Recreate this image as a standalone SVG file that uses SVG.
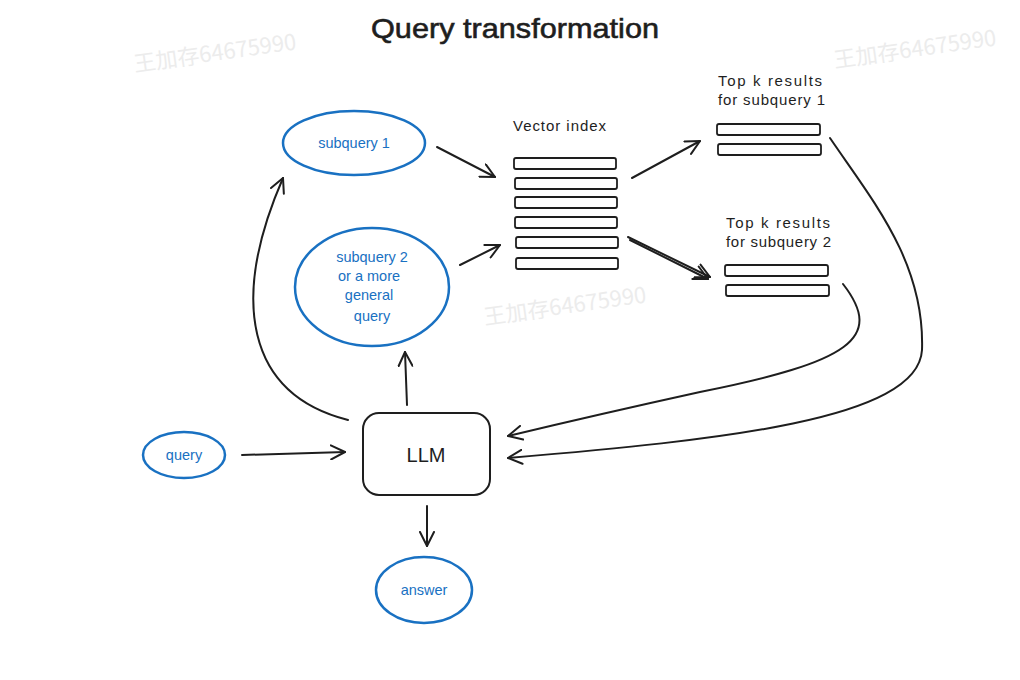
<svg xmlns="http://www.w3.org/2000/svg" width="1020" height="680" viewBox="0 0 1020 680">
<style>
.bg{fill:#ffffff}
.wm{font-family:"Noto Sans CJK SC","Liberation Sans",sans-serif;font-size:22px;fill:#ececec}
.title{font-family:"Liberation Sans",sans-serif;font-size:28px;fill:#1e1e1e;stroke:#1e1e1e;stroke-width:0.6}
.lbl{font-family:"Liberation Sans",sans-serif;font-size:15px;fill:#1e1e1e}
.blue{font-family:"Liberation Sans",sans-serif;font-size:14.5px;fill:#1971c2;text-anchor:middle}
.ell{fill:none;stroke:#1971c2;stroke-width:2.5}
.bar{fill:#ffffff;stroke:#1e1e1e;stroke-width:1.8}
.box{fill:#ffffff;stroke:#1e1e1e;stroke-width:2}
.llm{font-family:"Liberation Sans",sans-serif;font-size:20px;fill:#1e1e1e;text-anchor:middle}
.con{fill:none;stroke:#1e1e1e;stroke-width:2;stroke-linecap:round;marker-end:url(#arr)}
</style>
<defs>
<marker id="arr" viewBox="0 0 16 16" refX="15" refY="8" markerWidth="16" markerHeight="16" markerUnits="userSpaceOnUse" orient="auto">
<path d="M1,1 L15,8 L1,15" fill="none" stroke="#1e1e1e" stroke-width="2" stroke-linecap="round" stroke-linejoin="round"/>
</marker>
</defs>
<rect class="bg" x="0" y="0" width="1020" height="680"/>
<g id="watermarks">
<text class="wm" x="835" y="68" transform="rotate(-8 835 68)">王加存64675990</text>
<text class="wm" x="485" y="325" transform="rotate(-8 485 325)">王加存64675990</text>
<text class="wm" x="135" y="72" transform="rotate(-8 135 72)">王加存64675990</text>
</g>
<g id="title"><text class="title" x="371" y="38" textLength="288" lengthAdjust="spacingAndGlyphs">Query transformation</text></g>
<g id="connectors">
<path class="con" d="M437,147 L495,177"/>
<path class="con" d="M460,265 L500,245"/>
<path class="con" d="M632,178 L700,141"/>
<path class="con" d="M628,237 L710,277"/>
<path class="con" d="M630,240 L708,279" marker-end="none"/>
<path class="con" d="M348,420 C246,394 230,300 283,178"/>
<path class="con" d="M407,405 L405,352"/>
<path class="con" d="M242,455 L345,452"/>
<path class="con" d="M427,506 L427,546"/>
<path class="con" d="M843,284 C885,338 850,362 700,392 Q600,414 508,436"/>
<path class="con" d="M830,138 C872,200 925,262 922,350 C918,420 720,440 508,458"/>
</g>
<g id="subquery1">
<ellipse class="ell" cx="354" cy="143" rx="71" ry="32"/>
<text class="blue" x="354" y="148">subquery 1</text>
</g>
<g id="subquery2">
<ellipse class="ell" cx="372" cy="287" rx="77" ry="59"/>
<text class="blue" x="372" y="262">subquery 2</text>
<text class="blue" x="369" y="281">or a more</text>
<text class="blue" x="369" y="300">general</text>
<text class="blue" x="372" y="321">query</text>
</g>
<g id="vector-index">
<text class="lbl" x="513" y="131" textLength="93">Vector index</text>
<rect class="bar" x="514" y="158" width="102" height="11" rx="2"/>
<rect class="bar" x="515" y="178" width="102" height="11" rx="2"/>
<rect class="bar" x="515" y="197" width="102" height="11" rx="2"/>
<rect class="bar" x="515" y="217" width="102" height="11" rx="2"/>
<rect class="bar" x="516" y="237" width="102" height="11" rx="2"/>
<rect class="bar" x="516" y="258" width="102" height="11" rx="2"/>
</g>
<g id="topk1">
<text class="lbl" x="718" y="86" textLength="104">Top k results</text>
<text class="lbl" x="718" y="105" textLength="107">for subquery 1</text>
<rect class="bar" x="717" y="124" width="103" height="11" rx="2"/>
<rect class="bar" x="718" y="144" width="103" height="11" rx="2"/>
</g>
<g id="topk2">
<text class="lbl" x="726" y="228" textLength="104">Top k results</text>
<text class="lbl" x="726" y="247" textLength="105">for subquery 2</text>
<rect class="bar" x="725" y="265" width="103" height="11" rx="2"/>
<rect class="bar" x="726" y="285" width="103" height="11" rx="2"/>
</g>
<g id="query">
<ellipse class="ell" cx="184" cy="455" rx="41" ry="23"/>
<text class="blue" x="184" y="460">query</text>
</g>
<g id="llm">
<rect class="box" x="363" y="413" width="127" height="82" rx="16"/>
<text class="llm" x="426" y="462">LLM</text>
</g>
<g id="answer">
<ellipse class="ell" cx="424" cy="590" rx="48" ry="33"/>
<text class="blue" x="424" y="595">answer</text>
</g>
</svg>
